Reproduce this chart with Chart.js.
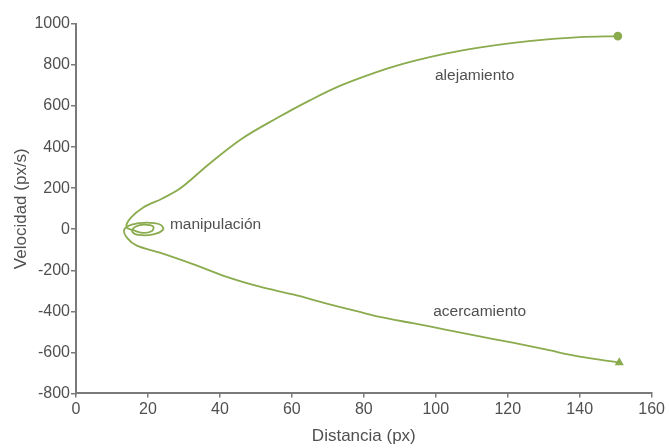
<!DOCTYPE html>
<html>
<head>
<meta charset="utf-8">
<script src="https://cdn.jsdelivr.net/npm/chart.js@4"></script>
<style>
  html, body { margin: 0; padding: 0; background: #fff; overflow: hidden; }
  #grafico { display: block; }
</style>
</head>
<body>
<canvas id="grafico" width="668" height="448"></canvas>
<script>
// trayectoria: desde el final del acercamiento, pasando por la manipulación, hasta el alejamiento
const distancia = [151, 140, 130.8, 121.4, 112.2, 103, 93.6, 84.4, 78.9, 69.7, 60.3, 51.1, 41.9, 32.5, 23.3, 16.9, 14.2, 13.4,
  15.5, 19.5, 23.5, 24.2, 21.5, 17.5, 15.6, 16.5, 19, 21.5, 21, 18.5, 16, 14,
  15.2, 18.6, 24, 28.9, 37, 46, 56, 65, 74, 86, 94, 103, 112, 121, 131, 140, 150.6];
const velocidad = [-650, -621, -587, -553, -522, -490, -458, -427, -403, -362, -318, -280, -232, -170, -114, -80, -42, -2,
  22, 32, 22, -2, -25, -28, -10, 12, 22, 12, -10, -18, -5, 10,
  55, 105, 150, 198, 318, 440, 543, 628, 703, 780, 820, 857, 885, 907, 925, 936, 941];

const ticksX = [0, 20, 40, 60, 80, 100, 120, 140, 160];
const ticksY = [-800, -600, -400, -200, 0, 200, 400, 600, 800, 1000];

const etiquetas = ['alejamiento', 'acercamiento', 'manipulación'];
const etiquetaX = [110.8, 112.2, 26.1];
const etiquetaY = [747, -403, 24];
const etiquetaAlineacion = ['center', 'center', 'left'];

const colorLinea = '#8aab4e';
const colorTexto = '#505050';
const colorEje = '#7a7a7a';
const fuente = 'Liberation Sans, Arial, sans-serif';

const ctx = document.getElementById('grafico');

function puntos() {
  return distancia.map((x, i) => ({ x, y: velocidad[i] }));
}

function radioPuntos() {
  return distancia.map((_, i) => (i === 0 || i === distancia.length - 1) ? 3.5 : 0);
}

function estiloPuntos() {
  return distancia.map((_, i) => i === 0 ? 'triangle' : 'circle');
}

const textoEtiquetas = {
  id: 'textoEtiquetas',
  afterDatasetsDraw(chart) {
    const c = chart.ctx;
    const { x, y } = chart.scales;
    c.save();
    c.font = '15.5px ' + fuente;
    c.fillStyle = colorTexto;
    c.textBaseline = 'middle';
    etiquetas.forEach((texto, i) => {
      c.textAlign = etiquetaAlineacion[i];
      c.fillText(texto, x.getPixelForValue(etiquetaX[i]), y.getPixelForValue(etiquetaY[i]));
    });
    c.restore();
  }
};

new Chart(ctx, {
  type: 'scatter',
  data: {
    datasets: [{
      data: puntos(),
      showLine: true,
      borderColor: colorLinea,
      borderWidth: 1.8,
      tension: 0.35,
      pointRadius: radioPuntos(),
      pointStyle: estiloPuntos(),
      pointBackgroundColor: colorLinea,
      pointBorderColor: colorLinea,
      clip: false
    }]
  },
  options: {
    responsive: false,
    animation: false,
    layout: { padding: { left: 11, top: 24, right: 0, bottom: 1 } },
    plugins: { legend: { display: false }, tooltip: { enabled: false } },
    scales: {
      x: {
        type: 'linear',
        min: 0,
        max: 160,
        afterBuildTicks: (eje) => { eje.ticks = ticksX.map(v => ({ value: v })); },
        ticks: { color: colorTexto, font: { family: fuente, size: 16 }, padding: 3, maxRotation: 0, callback: (v) => String(v) },
        grid: { drawOnChartArea: false, color: colorEje, tickLength: 4, lineWidth: 1.5 },
        border: { color: colorEje, width: 2 },
        title: { display: true, text: 'Distancia (px)', color: colorTexto, font: { family: fuente, size: 17 }, padding: { top: 4, bottom: 0 } }
      },
      y: {
        type: 'linear',
        min: -800,
        max: 1000,
        afterBuildTicks: (eje) => { eje.ticks = ticksY.map(v => ({ value: v })); },
        ticks: { color: colorTexto, font: { family: fuente, size: 16 }, padding: 1, callback: (v) => String(v) },
        grid: { drawOnChartArea: false, color: colorEje, tickLength: 5, lineWidth: 1.5 },
        border: { color: colorEje, width: 2 },
        title: { display: true, text: 'Velocidad (px/s)', color: colorTexto, font: { family: fuente, size: 17 }, padding: { top: 0, bottom: 2 } }
      }
    }
  },
  plugins: [textoEtiquetas]
});
</script>
</body>
</html>
